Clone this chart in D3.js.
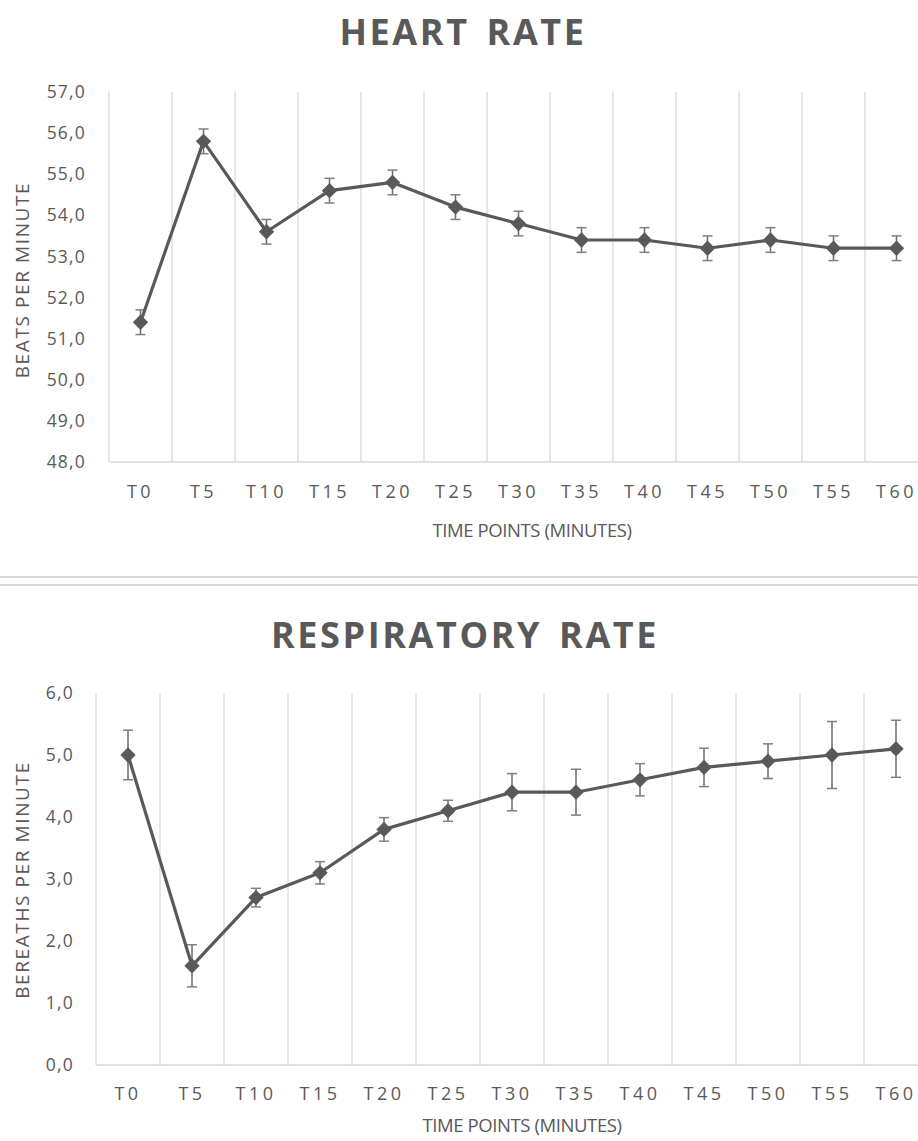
<!DOCTYPE html>
<html>
<head>
<meta charset="utf-8">
<script src="https://cdn.jsdelivr.net/npm/d3@7"></script>
<style>
  html, body { margin: 0; padding: 0; background: #fff; }
  svg { display: block; }
  text { font-family: "Open Sans", "Liberation Sans", sans-serif; fill: #595959; }
</style>
</head>
<body>
<script>
// ---- data ----
const categories = ["T0","T5","T10","T15","T20","T25","T30","T35","T40","T45","T50","T55","T60"];
const heartRate = [51.4, 55.8, 53.6, 54.6, 54.8, 54.2, 53.8, 53.4, 53.4, 53.2, 53.4, 53.2, 53.2];
const heartRateErr = [0.3, 0.3, 0.3, 0.3, 0.3, 0.3, 0.3, 0.3, 0.3, 0.3, 0.3, 0.3, 0.3];
const respRate = [5.0, 1.6, 2.7, 3.1, 3.8, 4.1, 4.4, 4.4, 4.6, 4.8, 4.9, 5.0, 5.1];
const respRateErr = [0.4, 0.34, 0.15, 0.18, 0.19, 0.17, 0.3, 0.37, 0.26, 0.31, 0.28, 0.54, 0.46];
const heartTicks = [48, 49, 50, 51, 52, 53, 54, 55, 56, 57];
const respTicks = [0, 1, 2, 3, 4, 5, 6];

const W = 918, H = 1141;
const svg = d3.select("body").append("svg").attr("width", W).attr("height", H);

const fmt = v => d3.format(".1f")(v).replace(".", ",");

function drawChart(cfg) {
  const g = svg.append("g");
  const x = d3.scaleBand().domain(categories).range([cfg.left, cfg.right]).paddingInner(0).paddingOuter(0);
  const y = d3.scaleLinear().domain(cfg.domain).range([cfg.bottom, cfg.top]);

  // title
  g.append("text").attr("x", cfg.titleX).attr("y", cfg.titleY)
    .attr("text-anchor", "middle").style("font-size", "36px").style("font-weight", "700")
    .style("letter-spacing", "2.6px").style("word-spacing", "5px").text(cfg.title);

  // vertical gridlines at band boundaries
  const bounds = categories.map(c => x(c));
  g.selectAll(".vgrid").data(bounds).enter().append("line")
    .attr("x1", d => d).attr("x2", d => d)
    .attr("y1", cfg.top).attr("y2", cfg.bottom)
    .attr("stroke", "#d9d9d9").attr("stroke-width", 1.3);

  // bottom axis line
  g.append("line").attr("x1", cfg.left).attr("x2", cfg.right)
    .attr("y1", cfg.bottom).attr("y2", cfg.bottom)
    .attr("stroke", "#d9d9d9").attr("stroke-width", 1.5);

  // y axis labels
  const yAxis = d3.axisLeft(y).tickValues(cfg.ticks).tickFormat(fmt).tickSize(0).tickPadding(cfg.tickPad);
  const ya = g.append("g").attr("transform", `translate(${cfg.left},0)`).call(yAxis);
  ya.select(".domain").remove();
  ya.selectAll("text").style("font-size", "17.5px").style("fill", "#595959")
    .style("letter-spacing", "1.2px")
    .style("font-family", "'Open Sans', sans-serif");

  // x axis labels
  const xAxis = d3.axisBottom(x).tickSize(0).tickPadding(0);
  const xa = g.append("g").attr("transform", `translate(0,${cfg.xLabelY})`).call(xAxis);
  xa.select(".domain").remove();
  xa.selectAll("text").attr("dy", "0").style("font-size", "18px").style("fill", "#595959")
    .style("letter-spacing", "3.5px").style("font-family", "'Open Sans', sans-serif");

  // axis titles
  g.append("text").attr("x", cfg.xTitleX).attr("y", cfg.xTitleY).attr("text-anchor", "middle")
    .style("font-size", "18.5px").style("letter-spacing", "-0.4px").text("TIME POINTS (MINUTES)");
  g.append("text").attr("transform", `translate(${cfg.yTitleX},${cfg.yTitleY}) rotate(-90)`)
    .attr("text-anchor", "middle").style("font-size", "19px").style("letter-spacing", "1.6px").text(cfg.yTitle);

  const cx = c => x(c) + x.bandwidth() / 2;

  // error bars
  const eb = g.selectAll(".err").data(categories).enter().append("g");
  eb.append("line").attr("x1", cx).attr("x2", cx)
    .attr("y1", (c, i) => y(cfg.values[i] + cfg.errs[i]))
    .attr("y2", (c, i) => y(cfg.values[i] - cfg.errs[i]))
    .attr("stroke", "#6b6b6b").attr("stroke-width", 1.5);
  [1, -1].forEach(s => {
    eb.append("line").attr("x1", c => cx(c) - 5).attr("x2", c => cx(c) + 5)
      .attr("y1", (c, i) => y(cfg.values[i] + s * cfg.errs[i]))
      .attr("y2", (c, i) => y(cfg.values[i] + s * cfg.errs[i]))
      .attr("stroke", "#7f7f7f").attr("stroke-width", 1.5);
  });

  // line
  const line = d3.line().x((d, i) => cx(categories[i])).y(d => y(d));
  g.append("path").datum(cfg.values).attr("d", line)
    .attr("fill", "none").attr("stroke", "#595959").attr("stroke-width", 3.2)
    .attr("stroke-linejoin", "round");

  // markers
  const sym = d3.symbol().type(d3.symbolDiamond2).size(150);
  g.selectAll(".mk").data(cfg.values).enter().append("path")
    .attr("d", sym)
    .attr("transform", (d, i) => `translate(${cx(categories[i])},${y(d)})`)
    .attr("fill", "#595959");
}

drawChart({
  title: "HEART RATE", titleX: 463, titleY: 45,
  left: 109, right: 928, top: 92, bottom: 462, domain: [48, 57], ticks: heartTicks, tickPad: 23,
  values: heartRate, errs: heartRateErr,
  xLabelY: 498, xTitleX: 532, xTitleY: 537,
  yTitle: "BEATS PER MINUTE", yTitleX: 29, yTitleY: 280
});

// separator (chart borders)
svg.append("line").attr("x1", 0).attr("x2", W).attr("y1", 577).attr("y2", 577).attr("stroke", "#d9d9d9").attr("stroke-width", 2);
svg.append("line").attr("x1", 0).attr("x2", W).attr("y1", 585).attr("y2", 585).attr("stroke", "#d9d9d9").attr("stroke-width", 2);

drawChart({
  title: "RESPIRATORY RATE", titleX: 465, titleY: 648,
  left: 96, right: 928, top: 693, bottom: 1065, domain: [0, 6], ticks: respTicks, tickPad: 22,
  values: respRate, errs: respRateErr,
  xLabelY: 1100, xTitleX: 522, xTitleY: 1132,
  yTitle: "BEREATHS PER MINUTE", yTitleX: 29, yTitleY: 880
});
</script>
</body>
</html>
